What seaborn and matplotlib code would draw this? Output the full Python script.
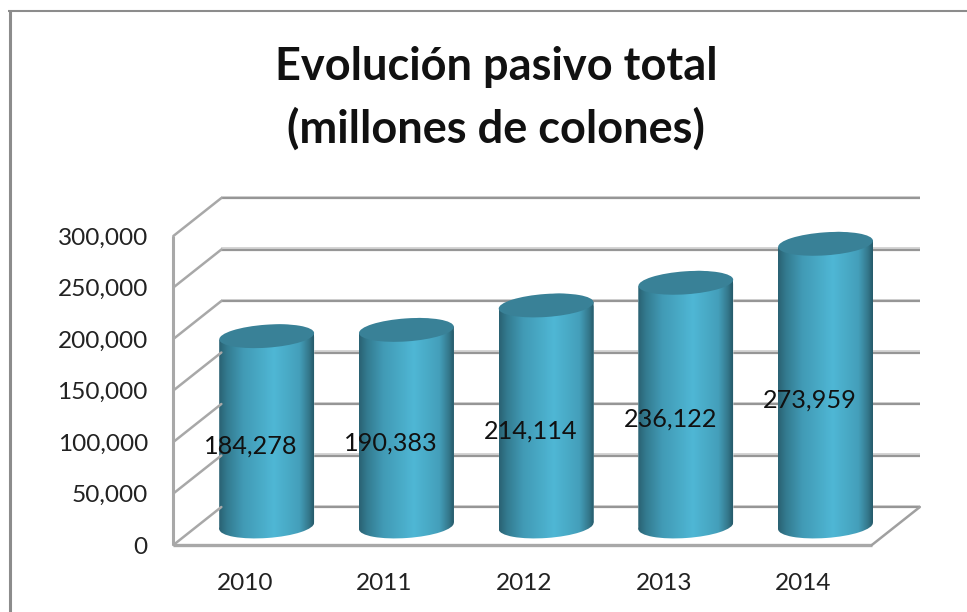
# -*- coding: UTF-8 -*-
import numpy as np
import pandas as pd
import seaborn as sns
import matplotlib
matplotlib.use('Agg')
import matplotlib.pyplot as plt
from matplotlib.colors import LinearSegmentedColormap
from matplotlib.lines import Line2D
from matplotlib.patches import Ellipse, Polygon
from matplotlib.transforms import Affine2D, IdentityTransform

years = ['2010', '2011', '2012', '2013', '2014']
pasivo = [184278, 190383, 214114, 236122, 273959]
yticks = [0, 50000, 100000, 150000, 200000, 250000, 300000]
title = 'Evolución pasivo total\n(millones de colones)'

W, H = 967, 612
sns.set_theme(style='white')
plt.rcParams['font.family'] = ['Lato', 'DejaVu Sans']

fig = plt.figure(figsize=(W / 100, H / 100), dpi=100)
# the axes is the plane through the middle of the bars
ax = fig.add_axes([196.85 / W, (H - 526) / H, 698.5 / W, 309 / H])
df = pd.DataFrame({'year': years, 'pasivo': pasivo})
sns.barplot(data=df, x='year', y='pasivo', color='#3f93ad', width=0.68, ax=ax, zorder=3)
ax.set_xlim(-0.5, 4.5)
ax.set_ylim(0, 300000)
ax.set_xlabel('')
ax.set_ylabel('')
sns.despine(ax=ax, left=True, bottom=True)

back = ax.transData + Affine2D().translate(24.5, 19)
front = ax.transData + Affine2D().translate(-23.5, -19)
GRID = '#969696'
LIGHT = '#d4d4d4'

# back wall and side wall lines
for v in yticks:
    ax.hlines(v, -0.5, 4.5, color=LIGHT, lw=1.4, transform=back + Affine2D().translate(0, 1.2), zorder=1, clip_on=False)
    ax.hlines(v, -0.5, 4.5, color=GRID, lw=1.6, transform=back, zorder=1, clip_on=False)
    p0 = front.transform((-0.5, v))
    p1 = back.transform((-0.5, v))
    fig.add_artist(Line2D([p0[0], p1[0]], [p0[1], p1[1]], transform=IdentityTransform(), color='#a8a8a8', lw=1.8, zorder=1))

# front edges of the floor
ax.vlines(-0.5, 0, 300000, color='#a8a8a8', lw=2.2, transform=front, clip_on=False, zorder=1)
ax.hlines(0, -0.5, 4.5, color='#a8a8a8', lw=2.4, transform=front, clip_on=False, zorder=1)
p0 = front.transform((4.5, 0))
p1 = back.transform((4.5, 0))
fig.add_artist(Line2D([p0[0], p1[0]], [p0[1], p1[1]], transform=IdentityTransform(), color='#a0a0a0', lw=1.8, zorder=1))

# cylinders: gradient painted over each bar
cmap = LinearSegmentedColormap.from_list('cyl', [(0, '#2a6273'), (0.08, '#337a8f'), (0.25, '#419ab5'),
                                                 (0.58, '#4fb7d5'), (0.85, '#449fba'), (0.95, '#34788c'),
                                                 (1, '#265b6b')])
grad = np.linspace(0, 1, 128).reshape(1, -1)
for bar in ax.patches:
    x0 = bar.get_x()
    x1 = x0 + bar.get_width()
    v = bar.get_height()
    xc = x0 + bar.get_width() / 2
    left, base = ax.transData.transform((x0, 0))
    right, top = ax.transData.transform((x1, v))
    cx = (left + right) / 2
    w = right - left
    body = Polygon([(left, base - 3.5), (right, base + 3.5), (right, top + 3.5), (left, top - 3.5)], closed=True,
                   transform=IdentityTransform(), fc='none', ec='none')
    ax.add_patch(body)
    bottom = Ellipse((cx, base), w, 24, angle=4, transform=IdentityTransform(), fc='none', ec='none')
    ax.add_patch(bottom)
    bar.set_clip_path(body)
    for clip in [body, bottom]:
        im = ax.imshow(grad, extent=(x0, x1, -20000, v + 10000), aspect='auto', cmap=cmap, vmin=0, vmax=1, zorder=4)
        im.set_clip_box(fig.bbox)
        im.set_clip_path(clip)
    # pale rim behind the lid, then the lid
    ax.add_patch(Ellipse((cx + 12, top + 2), w * 0.45, 20, angle=3, transform=IdentityTransform(),
                         fc='#93c2cd', ec='none', zorder=5, clip_on=False))
    ax.add_patch(Ellipse((cx, top), w, 23, angle=4, transform=IdentityTransform(),
                         fc='#398197', ec='none', zorder=6, clip_on=False))
    ax.annotate(f'{int(v):,}', (xc, v / 2), xytext=(-15.5 * 0.72, -15 * 0.72), textcoords='offset points',
                ha='center', va='center', fontsize=18.2, color='#111111', zorder=8, annotation_clip=False)
ax.set_xlim(-0.5, 4.5)
ax.set_ylim(0, 300000)

# tick labels sit on the front plane
ax.set_yticks(yticks)
ax.set_yticklabels([f'{v:,}' for v in yticks])
ax.tick_params(axis='y', length=0, pad=0, labelsize=17.6, labelcolor='#222222')
ax.tick_params(axis='x', length=0, pad=0, labelsize=17.6, labelcolor='#222222')
for lab in ax.get_yticklabels():
    lab.set_transform(lab.get_transform() + Affine2D().translate(-49, -19))
for lab in ax.get_xticklabels():
    lab.set_transform(lab.get_transform() + Affine2D().translate(-22, -47))

# chart frame
fig.add_artist(Line2D([9.5, 9.5], [0, H - 10], transform=IdentityTransform(), color='#8c8c8c', lw=2.2,
                      solid_capstyle='butt'))
fig.add_artist(Line2D([8, W], [H - 11, H - 11], transform=IdentityTransform(), color='#8c8c8c', lw=1.5,
                      solid_capstyle='butt'))

fig.text(496 / W, 1 - 98.5 / H, title, ha='center', va='center', fontsize=32.5, fontweight='bold',
         color='#111111', linespacing=1.56)

fig.savefig('out.png', dpi=100)
